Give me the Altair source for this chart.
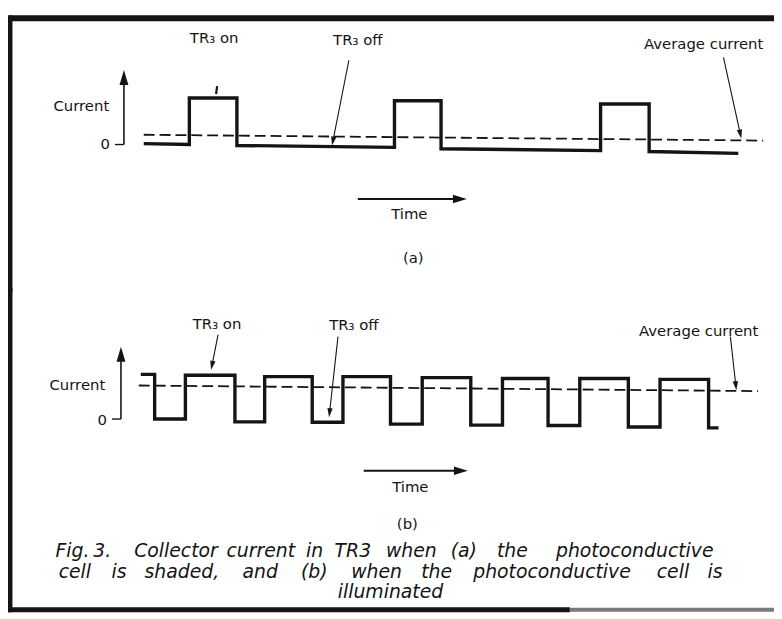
import math
import altair as alt
import pandas as pd

# ---------------- values ----------------
# time in arbitrary units, current in units of the pulse height
# Panel (a): photoconductive cell shaded
A_EDGES = [0, 9.2, 18.8, 50.6, 60, 92.2, 102, 120]
A_START = [0.02, 1.00, -0.02, 0.94, -0.09, 0.87, -0.15]
A_END = [0.00, 1.00, -0.06, 0.94, -0.13, 0.87, -0.19]
A_AVG_T = [0, 125]
A_AVG_I = [0.21, 0.085]

# Panel (b): photoconductive cell illuminated
B_EDGES = [-0.6, 2.2, 8.4, 18.4, 24.4, 34, 40.2, 49.8, 56.2, 66, 72.4,
           81.6, 88, 97.8, 104.2, 114, 116]
B_LEVEL = [0.96, 0.00, 0.94, -0.06, 0.91, -0.07, 0.91, -0.11, 0.89, -0.13,
           0.87, -0.14, 0.87, -0.17, 0.85, -0.19]
B_AVG_T = [-1, 124]
B_AVG_I = [0.72, 0.60]

LABELS = ["TR\u2083 on", "TR\u2083 off", "Average current"]
A_LABEL_T = [14.2, 43.2, 113]
A_LABEL_I = [2.28, 2.25, 2.15]
B_LABEL_T = [14.8, 42.4, 112]
B_LABEL_I = [2.04, 2.02, 1.89]

# pointer lines from label towards the trace
A_PTR_T1 = [14.8, 41.4, 117]
A_PTR_I1 = [1.255, 1.81, 1.87]
A_PTR_T2 = [14.6, 38, 120.6]
A_PTR_I2 = [1.085, -0.02, 0.13]
A_PTR_HEAD = [False, True, True]
B_PTR_T1 = [15, 39.2, 118.4]
B_PTR_I1 = [1.81, 1.77, 1.77]
B_PTR_T2 = [13.6, 37.4, 119.6]
B_PTR_I2 = [1.06, 0.04, 0.62]
B_PTR_HEAD = [True, True, True]

# axis arrows, time arrows and panel texts
A_AXIS = dict(t=-4, top=1.6, tick=-5.8, zero_t=-7.8, zero_i=0.0, cur_t=-12.6, cur_i=0.83,
              time_t1=43.2, time_t2=65.2, time_i=-1.17, time_lt=53.6, time_li=-1.49,
              tag="(a)", tag_t=54.4, tag_i=-2.43)
B_AXIS = dict(t=-4.6, top=1.55, tick=-6.4, zero_t=-8.4, zero_i=-0.02, cur_t=-13.4, cur_i=0.72,
              time_t1=44.4, time_t2=65.4, time_i=-1.11, time_lt=53.8, time_li=-1.45,
              tag="(b)", tag_t=53.2, tag_i=-2.26)

CAPTION_1 = ["Fig.", "3.", "Collector", "current", "in", "TR3", "when", "(a)", "the", "photoconductive"]
CAPTION_1_SPAN = [(59, 87), (94, 112), (135, 220), (227, 299), (308, 327), (336, 376),
                  (385, 445), (452, 484), (500, 534), (549, 732)]
CAPTION_2 = ["cell", "is", "shaded,", "and", "(b)", "when", "the", "photoconductive", "cell", "is"]
CAPTION_2_SPAN = [(59, 92), (111, 129), (146, 221), (244, 281), (302, 332), (354, 406),
                  (425, 456), (472, 642), (661, 697), (712, 731)]
CAPTION_3 = "illuminated"

# ---------------- layout ----------------
W = 773
HA = 282
HB = 327
PX_T = 5.0
PX_I = 47.0
T0 = 137.0          # x position of t = 0 inside the chart
A_ZERO = 135.0      # y of zero current inside panel (a)
B_ZERO = 130.0      # y of zero current inside panel (b)
INK = "#141414"
FONT = "DejaVu Sans"
HEAD = "M0,-1L0.6,1L-0.6,1Z"

XDOM = [-T0 / PX_T, (W - T0) / PX_T]


def step_vertices(edges, starts, ends):
    rows, k = [], 0
    for j in range(len(starts)):
        rows.append(dict(t=edges[j], i=starts[j], k=k)); k += 1
        rows.append(dict(t=edges[j + 1], i=ends[j], k=k)); k += 1
    return pd.DataFrame(rows)


def head(t1, i1, t2, i2, length):
    dx = (t2 - t1) * PX_T
    dy = -(i2 - i1) * PX_I
    n = math.hypot(dx, dy)
    ux, uy = dx / n, dy / n
    ang = math.degrees(math.atan2(ux, -uy)) % 360
    tc = t2 - (length / 2) * ux / PX_T
    ic = i2 + (length / 2) * uy / PX_I
    return tc, ic, ang


def panel(height, zero, verts, avg_t, avg_i, lab_t, lab_i, p1t, p1i, p2t, p2i, phead, ax, extras):
    ydom = [(zero - height) / PX_I, zero / PX_I]
    X = lambda f: alt.X(f, type="quantitative", scale=alt.Scale(domain=XDOM, nice=False, zero=False), axis=None)
    Y = lambda f: alt.Y(f, type="quantitative", scale=alt.Scale(domain=ydom, nice=False, zero=False), axis=None)

    wave = alt.Chart(verts).mark_line(color=INK, strokeWidth=3.4, strokeJoin="miter").encode(
        x=X("t"), y=Y("i"), order=alt.Order("k:Q"))

    avg = alt.Chart(pd.DataFrame(dict(t=avg_t, i=avg_i))).mark_line(
        color=INK, strokeWidth=1.8, strokeDash=[11, 5]).encode(x=X("t"), y=Y("i"))

    segs, heads = [], []
    for a, b, c, d, h in zip(p1t, p1i, p2t, p2i, phead):
        if h:
            tc, ic, ang = head(a, b, c, d, 9)
            segs.append(dict(t=a, i=b, t2=tc, i2=ic, w=1.1))
            heads.append(dict(t=tc, i=ic, ang=ang, s=81))
        else:
            segs.append(dict(t=a, i=b, t2=c, i2=d, w=2.2))
    tc, ic, ang = head(ax["t"], 0, ax["t"], ax["top"], 15)
    segs.append(dict(t=ax["t"], i=0, t2=tc, i2=ic, w=1.6))
    heads.append(dict(t=tc, i=ic, ang=ang, s=225))
    segs.append(dict(t=ax["tick"], i=0, t2=ax["t"], i2=0, w=1.4))
    tc, ic, ang = head(ax["time_t1"], ax["time_i"], ax["time_t2"], ax["time_i"], 14)
    segs.append(dict(t=ax["time_t1"], i=ax["time_i"], t2=tc, i2=ic, w=2.0))
    heads.append(dict(t=tc, i=ic, ang=ang, s=196))

    rules = alt.Chart(pd.DataFrame(segs)).mark_rule(color=INK).encode(
        x=X("t"), y=Y("i"), x2="t2:Q", y2="i2:Q",
        strokeWidth=alt.StrokeWidth("w:Q", scale=None))
    tips = alt.Chart(pd.DataFrame(heads)).mark_point(
        shape=HEAD, filled=True, color=INK, opacity=1, strokeWidth=0).encode(
        x=X("t"), y=Y("i"), angle=alt.Angle("ang:Q", scale=None),
        size=alt.Size("s:Q", scale=None))

    texts = pd.DataFrame(dict(
        t=list(lab_t) + [ax["zero_t"], ax["cur_t"], ax["time_lt"], ax["tag_t"]],
        i=list(lab_i) + [ax["zero_i"], ax["cur_i"], ax["time_li"], ax["tag_i"]],
        txt=LABELS + ["0", "Current", "Time", ax["tag"]]))
    words = alt.Chart(texts).mark_text(font=FONT, fontSize=15, color=INK, baseline="middle").encode(
        x=X("t"), y=Y("i"), text="txt:N")

    return alt.layer(wave, avg, rules, tips, words, *extras).properties(width=W, height=height)


def frame_rect(x, x2, y, y2, color=INK):
    return alt.Chart(pd.DataFrame({"d": [0]})).mark_rect(color=color, strokeWidth=0).encode(
        x=alt.value(x), x2=alt.value(x2), y=alt.value(y), y2=alt.value(y2))


extras_a = [frame_rect(1, W, 4.5, 10.5), frame_rect(0, 4.5, 4.5, HA + 2)]

cap_rows = []
for word, (l, r) in zip(CAPTION_1, CAPTION_1_SPAN):
    cap_rows.append(dict(x=(l + r) / 2 - 8, y=553 - 290, w=word))
for word, (l, r) in zip(CAPTION_2, CAPTION_2_SPAN):
    cap_rows.append(dict(x=(l + r) / 2 - 8, y=574 - 290, w=word))
cap_rows.append(dict(x=394 - 8, y=595 - 290, w=CAPTION_3))
caption = alt.Chart(pd.DataFrame(cap_rows)).mark_text(
    font=FONT, fontSize=19, fontStyle="italic", color=INK, baseline="middle").encode(
    x=alt.X("x:Q", scale=None, axis=None), y=alt.Y("y:Q", scale=None, axis=None), text="w:N")

extras_b = [frame_rect(0, 4.5, -2, 325), frame_rect(0, 567, 320, 325),
            frame_rect(567, W, 320.5, 324.5, "#7a7a7a"), caption]

chart_a = panel(HA, A_ZERO, step_vertices(A_EDGES, A_START, A_END), A_AVG_T, A_AVG_I,
                A_LABEL_T, A_LABEL_I, A_PTR_T1, A_PTR_I1, A_PTR_T2, A_PTR_I2, A_PTR_HEAD,
                A_AXIS, extras_a)
chart_b = panel(HB, B_ZERO, step_vertices(B_EDGES, B_LEVEL, B_LEVEL), B_AVG_T, B_AVG_I,
                B_LABEL_T, B_LABEL_I, B_PTR_T1, B_PTR_I1, B_PTR_T2, B_PTR_I2, B_PTR_HEAD,
                B_AXIS, extras_b)

chart = alt.vconcat(chart_a, chart_b, spacing=0, bounds="flush").properties(
    padding=0, background="white").configure_view(stroke=None)

chart.save("out.html", embed_options={"renderer": "svg", "actions": False})
